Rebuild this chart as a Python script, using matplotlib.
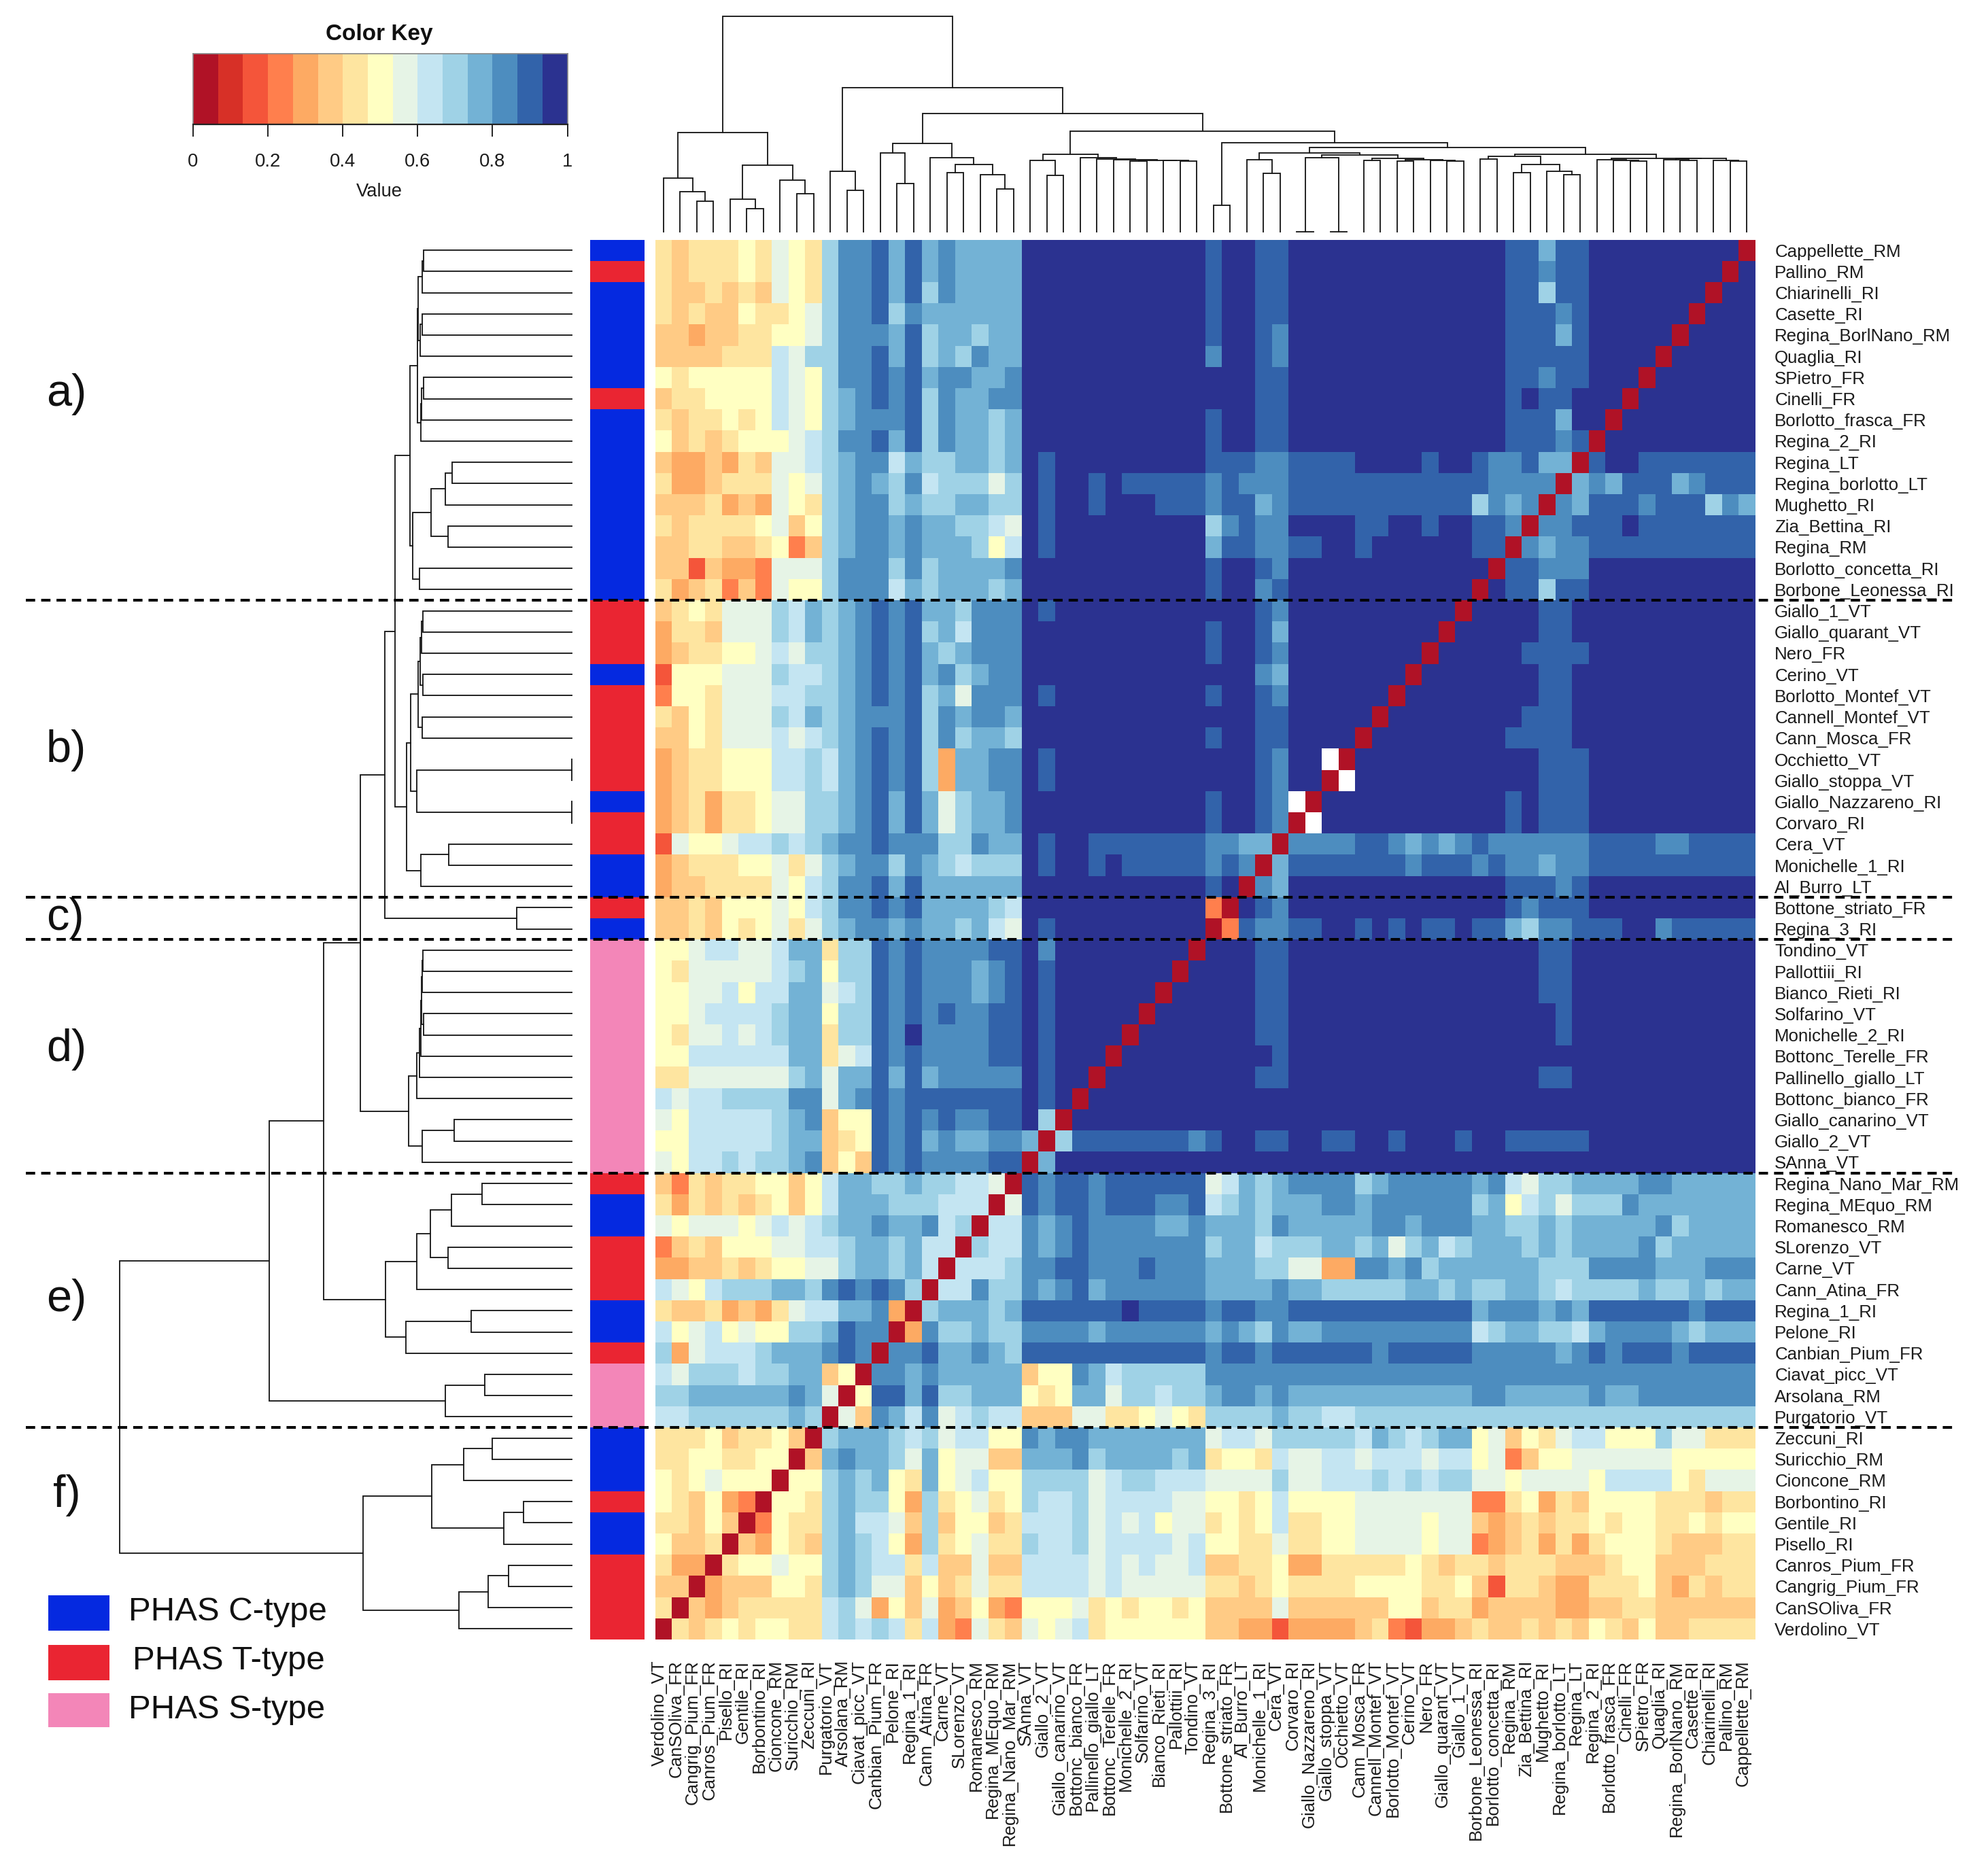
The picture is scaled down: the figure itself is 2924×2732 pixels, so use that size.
import numpy as np
import matplotlib
matplotlib.use('Agg')
import matplotlib.pyplot as plt
from matplotlib.colors import ListedColormap, BoundaryNorm
from matplotlib.patches import Rectangle
from matplotlib.transforms import ScaledTranslation

plt.rcParams['font.family'] = ['Liberation Sans', 'DejaVu Sans']

W, H = 2924, 2732

row_names = ['Cappellette_RM', 'Pallino_RM', 'Chiarinelli_RI', 'Casette_RI', 'Regina_BorlNano_RM', 'Quaglia_RI',
             'SPietro_FR', 'Cinelli_FR', 'Borlotto_frasca_FR', 'Regina_2_RI', 'Regina_LT', 'Regina_borlotto_LT',
             'Mughetto_RI', 'Zia_Bettina_RI', 'Regina_RM', 'Borlotto_concetta_RI', 'Borbone_Leonessa_RI',
             'Giallo_1_VT', 'Giallo_quarant_VT', 'Nero_FR', 'Cerino_VT', 'Borlotto_Montef_VT', 'Cannell_Montef_VT',
             'Cann_Mosca_FR', 'Occhietto_VT', 'Giallo_stoppa_VT', 'Giallo_Nazzareno_RI', 'Corvaro_RI', 'Cera_VT',
             'Monichelle_1_RI', 'Al_Burro_LT', 'Bottone_striato_FR', 'Regina_3_RI', 'Tondino_VT', 'Pallottiii_RI',
             'Bianco_Rieti_RI', 'Solfarino_VT', 'Monichelle_2_RI', 'Bottonc_Terelle_FR', 'Pallinello_giallo_LT',
             'Bottonc_bianco_FR', 'Giallo_canarino_VT', 'Giallo_2_VT', 'SAnna_VT', 'Regina_Nano_Mar_RM',
             'Regina_MEquo_RM', 'Romanesco_RM', 'SLorenzo_VT', 'Carne_VT', 'Cann_Atina_FR', 'Regina_1_RI',
             'Pelone_RI', 'Canbian_Pium_FR', 'Ciavat_picc_VT', 'Arsolana_RM', 'Purgatorio_VT', 'Zeccuni_RI',
             'Suricchio_RM', 'Cioncone_RM', 'Borbontino_RI', 'Gentile_RI', 'Pisello_RI', 'Canros_Pium_FR',
             'Cangrig_Pium_FR', 'CanSOliva_FR', 'Verdolino_VT']

# PHAS type of every row, top to bottom
row_types = 'CTCCCCCTCCCCCCCCC' + 'TTTCTTTTTCTTCC' + 'TC' + 'SSSSSSSSSSS' + 'TCCTTTCCT' + 'SSS' + 'CCCTCCTTTT'

# 0..e = bin of the colour key, '.' = no value. One string per row, columns 0-21 then 22-65
cells = [
    '6566676876 accdbdbcbbbb eeeeeeeeeee deeddeeeeee eeeeeeeddbd deeeeeeeee0',
    '6566676876 accdbdbcbbbb eeeeeeeeeee deeddeeeeee eeeeeeeddcd deeeeeeee0e',
    '6556565876 accdbdacbbbb eeeeeeeeeee deeddeeeeee eeeeeeeddad deeeeeee0ee',
    '6565576678 accdacbbbbbb eeeeeeeeeee deeddeeeeee eeeeeeedddc deeeeee0eee',
    '5545566778 acccbdabbabb eeeeeeeeeee deedceeeeee eeeeeeedddb deeeee0eeee',
    '555566698a accdbdabacbb eeeeeeeeeee ceedceeeeee eeeeeeedddd deeee0eeeee',
    '7677777987 accdcdbccbbc eeeeeeeeeee eeeddeeeeee eeeeeeeddcd deee0eeeeee',
    '5667777987 abcdcdacbbcc eeeeeeeeeee eeeddeeeeee eeeeeeededd eee0eeeeeee',
    '6566767987 abcccdacbbab eeeeeeeeeee deeddeeeeee eeeeeeedddb ee0eeeeeeee',
    '7565677789 accdbdacbbab eeeeeeeeeee deeddeeeeee eeeeeeedddc d0eeeeeeeee',
    '5445465889 abcc9baabbab edeeeeeeeee dddccddddee eedeedccdbb 0deeddddddd',
    '6445666878 abcbac9aaa8a edeededdddd cdcccdddddd ddddddcccc0 bcbdddbcddd',
    '5556454876 abccabaabbaa edeedeeeddd cddbcdddddd dddddacbc0c bdddcdddacb',
    '6566667857 abccbcbbaa98 edeeeeeeeee acdcceeeedd eedeeddc0cc dddeddddddd',
    '5566556735 abccbcbbba79 edeeeeeeeee bddccddeede eeeeedd0cbc cdddddddddd',
    '5525443888 acccacabbbbc eeeeeeeeeee deedceeeeee eeeeee0ddcc ceeeeeeeeee',
    '6456353877 accc9babbbab eeeeeeeeeee deecdeeeeee eeeee0eddad deeeeeeeeee',
    '5676888a9b abcdcdbbaccc edeeeeeeeee eeedceeeeee eeee0eeeedd eeeeeeeeeee',
    '4665888a9b abcdcdab9ccc eeeeeeeeeee deedbeeeeee eee0eeeeedd eeeeeeeeeee',
    '456677898a abcdcdbabccc eeeeeeeeeee deedceeeeee ee0eeeeeddd deeeeeeeeee',
    '2777888a99 abcdcdbcabcc eeeeeeeeeee eeecbeeeeee e0eeeeeeedd eeeeeeeeeee',
    '377688899a abcdcdab8ccc edeeeeeeeee deedceeeeee 0eeeeeeeedd eeeeeeeeeee',
    '6576888a9b abcccdacbccb eeeeeeeeeee eeeddeeeee0 eeeeeeeeddd eeeeeeeeeee',
    '5576888989 abcdcdacabba eeeeeeeeeee deeddeeee0e eeeeeeedddd eeeeeeeeeee',
    '456677799a 9bcdcda4bbcc edeeeeeeeee eeedcee.0ee eeeeeeeeedd deeeeeeeeee',
    '456677799a 9bcdcda4bbcc edeeeeeeeee eeedcee0.ee eeeeeeeeedd deeeeeeeeee',
    '456466788a abcdbdb8abbc eeeeeeeeeee deedc.0eeee eeeeeeededd deeeeeeeeee',
    '456466788a abcdbdb8abbc eeeeeeeeeee deedc0.eeee eeeeeeededd deeeeeeeeee',
    '2877899a9a bccdcccaacbb edeeddddddd ccbb0ccccdd cbcbcdccccc cddddccdddd',
    '4566677868 abccacba9aaa edeededdddd cdc0bdddddd dcdddcdccbc cdddddddddd',
    '4556666879 accdbdbbbbbb eeeeeeeeeee de0cbeeeeee eeeeeeedddc deeeeeeeeee',
    '5565777879 accdcdbbbba9 eeeeeeeeeee 30edceeeeee eeeeeeedcdd deeeeeeeeee',
    '5565767868 abccbcbbab98 edeeeeeeeee 03dccddeede deddeddbacc dddeecddddd',
    '77899889bb 6aadcdccccdd eceeeeeeee0 eeeddeeeeee eeeeeeeeedd eeeeeeeeeee',
    '76888889ab 7aadcdcccbcd edeeeeeee0e eeeddeeeeee eeeeeeeeedd eeeeeeeeeee',
    '77889799bb 89adcdcccbcd edeeeeee0ee eeeddeeeeee eeeeeeeeedd eeeeeeeeeee',
    '7789999abb 7aadcdcdccdd edeeeee0eee eeeddeeeeee eeeeeeeeeed eeeeeeeeeee',
    '7688989abb 6aadceccccdd edeeee0eeee eeeddeeeeee eeeeeeeeeed eeeeeeeeeee',
    '77999999bb 689dcdccccdd edeee0eeeee eeeedeeeeee eeeeeeeeeee eeeeeeeeeee',
    '66888888ab 8bbdbdbccccc edee0eeeeee eeeddeeeeee eeeeeeeeedd eeeeeeeeeee',
    '9899aaaacc 8bcdcddddddd ede0eeeeeee eeeeeeeeeee eeeeeeeeeee eeeeeeeeeee',
    '8799999abc 577dcdcdccdd ea0eeeeeeee eeeeeeeeeee eeeeeeeeeee eeeeeeeeeee',
    '7799999abb 567dcdbcbbcc b0adddddddc deeddeeddee deeedeedddd deeeeeeeeee',
    '8799a9aabc 575dcdccccdd 0beeeeeeeee eeeeeeeeeee eeeeeeeeeee eeeeeeeeeee',
    '5365667757 9bbaabaa9980 dcddcdddddd 89babccccab cccccbc98aa bbbbccbbbbb',
    '6465656757 9bbbaaa99908 dcddcdddccd 9ababbbccbc cccccab79a8 aaacbbbbbbb',
    '8788878989 abbcbbc9a099 cbcdccccbbc bbbacbbbbbc cbcccbbaaba bbbbbcabbbb',
    '3565777889 9abbab990a99 cbcdccccccc abb9aaabbab 8ab9abbbaba bbbbcabbbbb',
    '4455656778 8abbab90999a ccddcccdccc bbbaa8844cc bcabbbbbbaa accccbbbccc',
    '9879aaabba cdcdca099caa cbcdbcccccc bbbbcbbaaaa abbabaabba9 aaaabaababb',
    '6556454689 9bbc40abbbab ddddddedddd cddccdddddd dddddbcccbc bddddddcddd',
    '97897877aa bdcc04caabaa ccccbcccccc bcbacbbcccc ccccc9abbaa 9bccccbabbb',
    'a48999abbb cdc0ccdbbcba ddddddddddd cddcddddddc dddddcccccb cdcdddcdddd',
    '98aaa9aabb 570ccbcbbbbb 577cb9aaaaa ccccccccccc ccccccccccc ccccccccccc',
    'aabbbbbbcb 807ddbdaabbb 767bb8aa9aa bccbcbbbbbb bbbbbccbbbb bcbbccccccc',
    '99aaaaaaba 085cb9c89a99 55588667876 aaaabaa99aa aaaaaaaaaaa aaaaaaaaaaa',
    '6667566750 abbba9a89977 cbccbbbbbbb 8998aaaaa9b a9abb785768 99777a88666',
    '6677667705 bcbba8b78855 bbbcabbbbab 67769889989 99899783577 88888877777',
    '7678777077 abab76b78977 aaaa89aa999 8888a88999a 9a9aa887888 87999976888',
    '7657430776 abaa74a67867 a99a8999988 77679777788 88888336746 57777666566',
    '6657503766 ab9985a57756 999a8989788 67679667788 88788545656 67677667677',
    '7556054765 aba974a67866 a99a8999989 77668667788 88788345646 46777655566',
    '6440677877 aba996955855 99998989889 55667446666 67656656665 55677555666',
    '5504555776 aba885756866 99998988888 66567666677 77667526654 46667546566',
    '6054566666 9a8475845743 77786767767 55558555555 77566455554 45566555555',
    '0656767766 9a9a96943865 87896777777 55442444456 32445655656 57657556666',
]

key_colors = ['#b01226', '#d73027', '#f4553a', '#ff7f4d', '#fdaa63', '#ffcb85', '#fee5a0', '#ffffc2',
              '#e6f4e6', '#c4e5f2', '#9fd2e6', '#73b2d5', '#4d8dbf', '#3263aa', '#2b3290']
type_colors = {'C': '#0529e0', 'T': '#ea2532', 'S': '#f386b8'}
type_names = ['PHAS C-type', 'PHAS T-type', 'PHAS S-type']
group_labels = ['a)', 'b)', 'c)', 'd)', 'e)', 'f)']
group_ends = [17, 31, 33, 44, 56]  # rows where a dashed line goes

# clustering, (height, child, child), leaves numbered along the bottom axis
part_a = (.341, (.339, (.330, (.328, 65, 64), 63), (.335, (.331, 62, 61), 60)),
          (.333, (.332, (.328, 59, 58), 57), 56))
part_b = (.351, (.311, (.280, (.264, 55, 54), 53), (.274, 52, 51)), (.336, 50, 49))
part_c = (.339, (.335, (.332, (.329, 48, 47), 46), (.329, 45, 44)), (.331, 43, 42))
part_d = (.356, part_c, (.342, (0, 41, 40), (0, 39, 38)))
part_e = (.365, part_d, (.333, (.272, 37, 36), 35))
part_f = (.413, (.390, (.358, part_a, part_b), part_e), (.121, 34, 33))
part_g = (.343, (.336, (.333, (.332, (.330, (.329, 32, 31), 30), (.327, 29, 28)), 27), 26), 25)
part_h = (.360, part_g, (.331, (.260, 24, 23), 22))
part_i = (.411, (.343, (.313, (.266, (.199, 21, 20), 19), (.274, 18, 17)), 16), (.367, (.222, 15, 14), 13))
part_j = (.668, (.548, (.467, part_f, part_h), part_i), (.280, (.193, 12, 11), 10))
part_k = (.461, (.310, (.239, (.176, 9, 8), 7), (.150, (.107, 6, 5), 4)), (.249, (.185, (.140, 3, 2), 1), 0))
tree = (1.0, part_j, part_k)


def make_axes(fig, left, top, right, bottom):
    return fig.add_axes([left / W, 1 - bottom / H, (right - left) / W, (bottom - top) / H])


def parse_cells(lines):
    levels = '0123456789abcde'
    mat = np.full((len(lines), 66), np.nan)
    for i, line in enumerate(lines):
        line = line.replace(' ', '')
        assert len(line) == 66, (i, len(line))
        for j, ch in enumerate(line):
            if ch != '.':
                mat[i, j] = (levels.index(ch) + 0.5) / 15
    return mat


def draw_tree(ax, node, flip):
    # returns leaf position and height of the node
    if not isinstance(node, tuple):
        return node + 0.5, 0
    h, a, b = node
    pa, ha = draw_tree(ax, a, flip)
    pb, hb = draw_tree(ax, b, flip)
    xs = [pa, pa, pb, pb]
    ys = [ha, h, h, hb]
    if flip:
        xs, ys = ys, xs
    ax.plot(xs, ys, color='#1a1a1a', lw=1.35, solid_joinstyle='miter', clip_on=False)
    return (pa + pb) / 2, h


fig = plt.figure(figsize=(W / 100, H / 100), dpi=100, facecolor='white')

# heatmap
values = parse_cells(cells)
col_names = row_names[::-1]
cmap = ListedColormap(key_colors)
cmap.set_bad('white')
norm = BoundaryNorm(np.linspace(0, 1, 16), 15)

ax = make_axes(fig, 963.6, 352.5, 2581.7, 2412)
ax.pcolormesh(np.arange(67), np.arange(67), np.ma.masked_invalid(values[::-1]), cmap=cmap, norm=norm)
ax.set_xlim(0, 66)
ax.set_ylim(0, 66)
for s in ax.spines.values():
    s.set_visible(False)
ax.yaxis.tick_right()
ax.set_yticks(np.arange(66) + 0.5, col_names, fontsize=18.6, color='#1c1c1c')
ax.set_xticks(np.arange(66) + 0.5, col_names, fontsize=18.6, color='#1c1c1c', rotation=90)
ax.tick_params(axis='y', length=0, pad=20.5)
ax.tick_params(axis='x', length=0, pad=22)
shift = ScaledTranslation(-6 / 100, 0, fig.dpi_scale_trans)
for t in ax.get_xticklabels():
    t.set_transform(t.get_transform() + shift)
ax.set_zorder(10)

# dashed separators, x in axes fraction
x0 = (38 - 963.6) / (2581.7 - 963.6)
x1 = (2875 - 963.6) / (2581.7 - 963.6)
for r in group_ends:
    ax.plot([x0, x1], [66 - r, 66 - r], transform=ax.get_yaxis_transform(), color='black', lw=2.9,
            linestyle=(0, (3.4, 2.2)), clip_on=False)

# side colour bar
ax_side = make_axes(fig, 868, 352.5, 947.5, 2412)
type_index = np.array([['CTS'.index(t)] for t in row_types[::-1]])
ax_side.pcolormesh([0, 1], np.arange(67), type_index, cmap=ListedColormap([type_colors[k] for k in 'CTS']),
                   vmin=0, vmax=2)
ax_side.set_xlim(0, 1)
ax_side.set_ylim(0, 66)
ax_side.axis('off')

# dendrograms
ax_top = make_axes(fig, 963.6, 24.3, 2581.7, 340.7)
ax_top.set_xlim(0, 66)
ax_top.set_ylim(0, 1)
ax_top.axis('off')
draw_tree(ax_top, tree, False)

ax_left = make_axes(fig, 175.5, 352.5, 841, 2412)
ax_left.set_xlim(1, 0)
ax_left.set_ylim(0, 66)
ax_left.axis('off')
draw_tree(ax_left, tree, True)

# colour key
ax_key = make_axes(fig, 284, 79, 834.6, 183)
edges = np.linspace(0, 1, 16)
ax_key.pcolormesh(edges, [0, 1], [(edges[:-1] + edges[1:]) / 2], cmap=cmap, norm=norm)
ax_key.set_xlim(0, 1)
ax_key.set_ylim(0, 1)
ax_key.set_yticks([])
ax_key.set_xticks([0, 0.2, 0.4, 0.6, 0.8, 1], ['0', '0.2', '0.4', '0.6', '0.8', '1'], fontsize=19.7, color='#1c1c1c')
ax_key.tick_params(axis='x', length=13, width=1.4, pad=17, color='#222222')
for name in ['top', 'left', 'right']:
    ax_key.spines[name].set_color('#888888')
    ax_key.spines[name].set_linewidth(1.2)
ax_key.spines['bottom'].set_linewidth(1.6)
ax_key.spines['bottom'].set_color('#222222')
fig.text(558 / W, 1 - 50 / H, 'Color Key', fontsize=24, fontweight='bold', ha='center', va='center', color='#111111')
fig.text(558 / W, 1 - 282 / H, 'Value', fontsize=19.7, ha='center', va='center', color='#1c1c1c')

# group letters
letter_x = [68, 68, 68, 68, 68, 78]
letter_y = [580, 1104, 1351, 1544, 1912, 2200]
for lab, lx, ly in zip(group_labels, letter_x, letter_y):
    fig.text(lx / W, 1 - ly / H, lab, fontsize=48, va='center', ha='left', color='#111111')

# legend
box_top = [2347, 2420, 2491]
box_h = [52, 52, 50]
text_x = [189, 195, 189]
text_y = [2372, 2444, 2516]
for k, name, bt, bh, tx, ty in zip('CTS', type_names, box_top, box_h, text_x, text_y):
    fig.add_artist(Rectangle((71 / W, 1 - (bt + bh) / H), 90 / W, bh / H, transform=fig.transFigure,
                             facecolor=type_colors[k], edgecolor='none'))
    fig.text(tx / W, 1 - ty / H, name, fontsize=35.4, va='center', ha='left', color='#111111')

fig.savefig('out.png', dpi=100)
